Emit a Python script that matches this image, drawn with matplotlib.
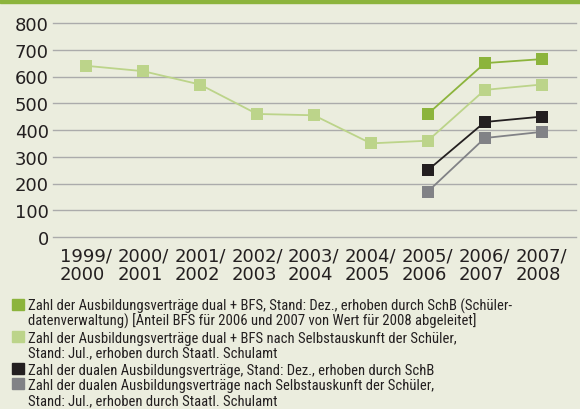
import matplotlib
matplotlib.use("Agg")
import matplotlib.pyplot as plt
from matplotlib import font_manager as fm
from matplotlib.font_manager import FontProperties
import numpy as np

# ---------------- data ----------------
years = ["1999/\n2000", "2000/\n2001", "2001/\n2002", "2002/\n2003", "2003/\n2004",
         "2004/\n2005", "2005/\n2006", "2006/\n2007", "2007/\n2008"]
dual_bfs_schb = [None, None, None, None, None, None, 460, 650, 665]
dual_bfs_selbst = [640, 620, 570, 460, 455, 350, 360, 550, 570]
dual_schb = [None, None, None, None, None, None, 250, 430, 450]
dual_selbst = [None, None, None, None, None, None, 170, 370, 393]
yticks = [0, 100, 200, 300, 400, 500, 600, 700, 800]

legend_items = [
    ["Zahl der Ausbildungsverträge dual + BFS, Stand: Dez., erhoben durch SchB (Schüler-",
     "datenverwaltung) [Anteil BFS für 2006 und 2007 von Wert für 2008 abgeleitet]"],
    ["Zahl der Ausbildungsverträge dual + BFS nach Selbstauskunft der Schüler,",
     "Stand: Jul., erhoben durch Staatl. Schulamt"],
    ["Zahl der dualen Ausbildungsverträge, Stand: Dez., erhoben durch SchB"],
    ["Zahl der dualen Ausbildungsverträge nach Selbstauskunft der Schüler,",
     "Stand: Jul., erhoben durch Staatl. Schulamt"],
]

# ---------------- styles ----------------
BG = "#ebedde"
C_DGREEN = "#8cb43c"
C_LGREEN = "#bcd48a"
C_BLACK = "#231f20"
C_GRAY = "#818286"
TEXT = "#231f20"
GRID = "#ababab"
series = [(dual_bfs_schb, C_DGREEN), (dual_bfs_selbst, C_LGREEN),
          (dual_schb, C_BLACK), (dual_selbst, C_GRAY)]

# condensed font for legend if available
cond_path = None
prefs = ["DejaVu Sans Condensed", "Liberation Sans Narrow", "Roboto Condensed",
         "Open Sans Condensed", "Noto Sans Condensed"]
for p in prefs:
    for f in fm.fontManager.ttflist:
        if f.name == p and f.style == "normal" and f.weight in (400, "normal", "regular"):
            cond_path = f.fname
            break
    if cond_path:
        break
if cond_path is None:
    for f in fm.fontManager.ttflist:
        if (f.stretch in ("condensed", "semi-condensed") or "Condensed" in f.fname) \
                and f.style == "normal" and f.weight in (400, "normal", "regular") \
                and "Mono" not in f.name and "Serif" not in f.name:
            cond_path = f.fname
            break
if cond_path:
    leg_fp = FontProperties(fname=cond_path)
else:
    leg_fp = FontProperties(family="DejaVu Sans")

W, H = 580, 410
DPI = 100
fig = plt.figure(figsize=(W / DPI, H / DPI), dpi=DPI, facecolor=BG)

# top bar
fig.patches.append(plt.Rectangle((0, 1 - 3.5 / H), 1, 3.5 / H, transform=fig.transFigure,
                                 color=C_DGREEN, zorder=0))

ax = fig.add_axes([53 / W, (H - 238) / H, (576 - 53) / W, (238 - 24) / H])
ax.set_facecolor(BG)
for s in ax.spines.values():
    s.set_visible(False)
ax.set_ylim(0, 800)
ax.set_xlim(-0.58, 8.6)
ax.set_yticks(yticks)
ax.set_yticklabels([str(v) for v in yticks])
ax.yaxis.grid(True, color=GRID, linewidth=1.0)
for gl in ax.get_ygridlines():
    gl.set_clip_on(False)
ax.set_axisbelow(True)
ax.tick_params(axis="y", length=0, pad=3, labelsize=13, labelcolor=TEXT)
x = np.arange(len(years))
ax.set_xticks(x)
ax.set_xticklabels(years, multialignment="left", linespacing=1.05)
ax.tick_params(axis="x", length=0, pad=7, labelsize=13, labelcolor=TEXT)

for vals, col in series:
    xs = [i for i, v in enumerate(vals) if v is not None]
    ys = [v for v in vals if v is not None]
    ax.plot(xs, ys, color=col, linewidth=1.3, marker="s", markersize=8.8,
            markeredgewidth=0, clip_on=False, zorder=3)

# legend
colors = [C_DGREEN, C_LGREEN, C_BLACK, C_GRAY]
baselines = [[310.7, 325.7], [342.7, 357.7], [375], [390, 405]]
sq_centers = [305.3, 337.5, 369.7, 384.5]
target_w = 485.0
fs = 10.5
renderer = fig.canvas.get_renderer()
t = fig.text(0, 0, legend_items[0][0], fontproperties=leg_fp, fontsize=fs)
wpx = t.get_window_extent(renderer).width
t.remove()
fs = fs * target_w / wpx
fs = min(fs, 10.8)

for items, col, bls, sc in zip(legend_items, colors, baselines, sq_centers):
    fig.patches.append(plt.Rectangle((12 / W, (H - sc - 5.5) / H), 11.5 / W, 11 / H,
                                     transform=fig.transFigure, color=col))
    for line, bl in zip(items, bls):
        fig.text(28.5 / W, (H - bl) / H, line, fontproperties=leg_fp, fontsize=fs,
                 color=TEXT, va="baseline", ha="left")

fig.savefig("out.png", dpi=DPI, facecolor=BG)
